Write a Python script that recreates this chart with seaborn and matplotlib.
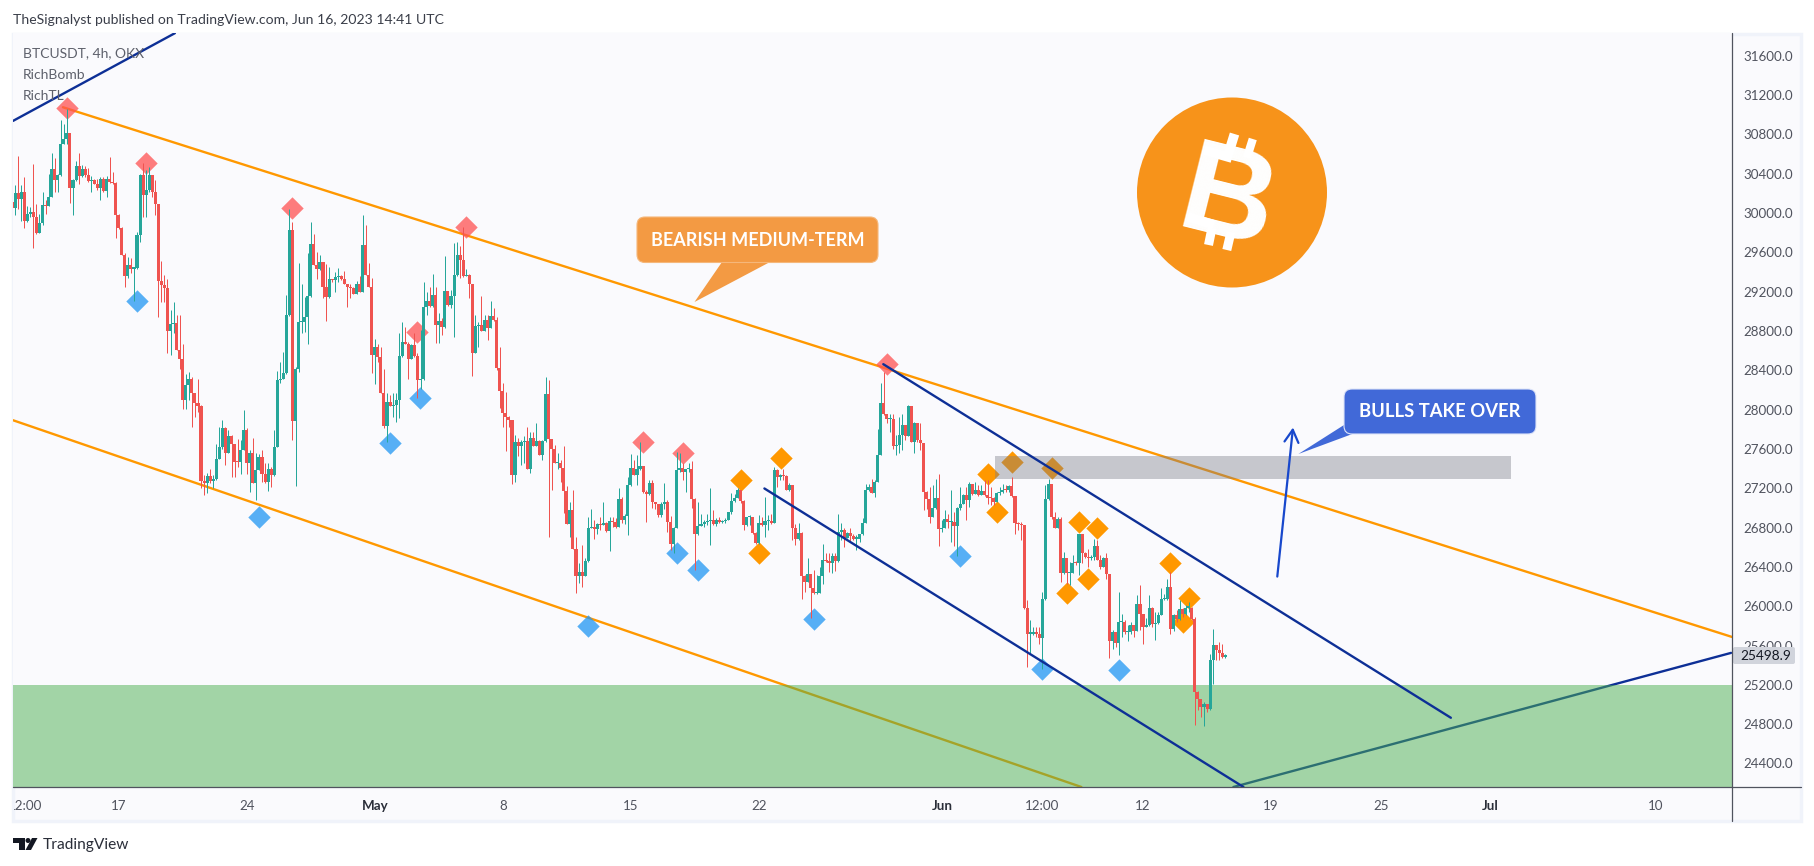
import numpy as np
import pandas as pd
import matplotlib
matplotlib.use("Agg")
import matplotlib.pyplot as plt
from matplotlib.patches import Rectangle, FancyBboxPatch, Polygon, Circle
from matplotlib.transforms import Bbox
import seaborn as sns

# 4h candles (open = previous close)
first_open = 30110
closes = [
    30051,30197,30136,30207,29919,29993,30010,29960,29797,29892,
    30075,30068,30163,30441,30332,30383,30705,30746,30807,30248,
    30332,30475,30373,30441,30383,30326,30339,30298,30248,30349,
    30224,30349,30315,30305,29976,29848,29570,29356,29468,29434,
    29441,29773,30383,30180,30231,30383,30214,30088,29305,29265,
    29231,28800,28868,28875,28610,28509,28095,28248,28315,28163,
    28068,28034,27275,27254,27322,27275,27298,27492,27614,27817,
    27559,27729,27647,27468,27465,27593,27790,27451,27559,27254,
    27383,27512,27349,27265,27390,27336,27614,28298,28315,28373,
    28960,29824,27885,28417,28892,28892,28936,29153,29681,29468,
    29424,29502,29241,29146,29332,29315,29349,29356,29332,29281,
    29241,29231,29173,29275,29197,29671,29366,29241,28553,28637,
    28529,28170,27831,28078,28037,28044,28095,28542,28688,28665,
    28512,28654,28542,28298,28315,29044,29102,29051,29163,28858,
    28902,28841,29207,29061,29153,29366,29570,29519,29356,29366,
    29275,28576,28848,28858,28800,28909,28834,28949,28909,28424,
    28190,27966,27925,27892,27332,27671,27627,27671,27681,27397,
    27715,27627,27681,27542,27681,28156,27695,27603,27451,27458,
    27410,27173,26834,26976,26586,26305,26349,26305,26461,
    26790,26807,26780,26834,26824,26841,26766,26868,26858,26807,
    27088,26875,26915,27231,27410,27332,27390,27424,27163,27136,
    27248,27061,27044,26925,27037,27061,26851,26637,26800,27383,
    27410,27366,27390,27400,27085,26732,26817,26834,26858,26868,
    26881,26834,26881,26858,26868,26881,26953,27068,27105,27180,
    27068,26824,26902,26902,26746,26644,26847,26824,26868,26868,
    26847,27383,27309,27332,27322,27186,27231,26790,26688,26749,
    26308,26248,26332,26180,26129,26129,26305,26468,26461,26441,
    26508,26461,26756,26773,26698,26746,26712,26688,26688,26732,26847,
    27186,27214,27152,27264,27536,28071,27953,27902,27908,27627,
    27637,27739,27841,27732,28034,27671,27864,27688,27661,27163,
    27085,26908,27003,27105,26780,26800,26891,26858,26858,26813,
    27003,27044,27129,27078,27247,27139,27180,27129,27173,27129,
    27105,27095,27061,27152,27163,27186,27180,27220,27119,26847,
    26834,26824,25986,25722,25722,25739,25722,25681,26068,27085,
    27241,26908,26800,26891,26339,26485,26339,26339,26441,26434,
    26732,26536,26502,26485,26502,26610,26474,26400,26485,26325,
    25647,25739,25627,25841,25841,25739,25739,25807,25749,26027,
    25925,25790,25807,25986,25817,25824,25908,26068,26078,26190,
    25763,25908,25874,25976,25925,25986,25986,25874,25129,25051,
    24976,25010,24952,25457,25603,25559,25525,25478,25498.9,
]
highs = [
    30146,30282,30576,30282,30360,30068,30061,30492,30095,29993,
    30214,30129,30393,30610,30553,30393,30943,30902,31054,30807,
    30349,30526,30604,30485,30475,30451,30373,30346,30349,30366,
    30360,30373,30563,30417,30315,29993,29858,29587,29553,29536,
    29451,29807,30400,30502,30434,30468,30383,30332,30088,29512,
    29366,29332,29010,29095,28960,28960,28671,28366,28383,28332,
    28163,28315,28044,27332,27356,27400,27332,27654,27824,27892,
    27824,27790,27739,27654,27705,27688,28000,27807,27586,27715,
    27553,27546,27593,27451,27451,27417,27790,28393,28485,28587,
    29163,30044,29909,28434,29485,29281,29146,29587,29902,29783,
    29604,29576,29485,29475,29451,29332,29400,29444,29366,29410,
    29281,29275,29241,29305,29356,29976,29875,29485,29342,28712,
    28671,28631,28407,28163,28146,28170,28163,28773,28892,28841,
    28688,28671,28773,28576,28807,29292,29197,29248,29383,29241,
    28983,28926,29559,29207,29214,29695,29705,29661,29851,29434,
    29383,29275,28960,28892,29153,28960,28960,29102,29037,28943,
    28631,28265,28180,27932,27892,27739,27715,27688,27729,27824,
    27773,27773,27858,27688,27688,28326,28298,27705,27637,27553,
    27485,27631,27220,27061,27186,26705,26434,26620,26485,
    26902,26993,26875,26841,26908,27061,26858,26908,26908,26892,
    27197,27112,26942,27309,27546,27485,27536,27671,27424,27180,
    27281,27288,27061,27044,27061,27248,27078,26915,26807,27570,
    27553,27451,27400,27451,27475,27095,27061,26942,26875,26942,
    27197,26976,26892,26908,26875,26892,26959,27146,27139,27197,
    27180,27078,26908,26925,26908,26756,26925,26908,27112,26925,
    26942,27417,27400,27349,27390,27332,27254,27231,26834,26841,
    26756,26315,26485,26332,26366,26315,26400,26637,26536,26536,
    26536,26542,26942,26847,26790,26756,26790,26739,26722,26739,26892,
    27247,27247,27298,27281,27797,28271,28383,27959,27959,27959,
    27739,27925,27959,27841,28044,28034,27875,27864,27858,27661,
    27173,27214,27230,27298,27349,26875,26976,26942,27180,26959,
    27010,27214,27139,27214,27264,27247,27264,27230,27230,27281,
    27281,27214,27112,27163,27214,27247,27230,27230,27315,27119,
    26858,26858,26780,26061,25857,25790,25790,25790,26146,27230,
    27298,27241,26959,26908,26908,26552,26491,26451,26519,26461,
    26739,26739,26552,26586,26519,26688,26671,26519,26502,26536,
    26332,25756,25739,26146,25925,25857,25807,25841,25807,26112,
    26214,25925,25875,26112,25993,25942,25942,26180,26122,26281,
    26349,25925,25959,26061,25986,26010,26044,25993,25885,25139,
    25061,25027,25010,25518,25763,25603,25637,25620,25518,
]
lows = [
    29976,29976,30044,29919,29841,29909,29960,29644,29783,29790,
    29875,29993,30068,30163,30214,30214,30373,30705,30705,30102,
    29976,30322,30298,30366,30360,30315,30214,30292,30231,30129,
    30217,30163,30305,30298,29749,29831,29570,29248,29339,29390,
    29102,29434,29705,29960,29960,30214,30163,29976,28942,29095,
    29095,28570,28553,28773,28603,28417,28010,28010,28095,27824,
    27925,27976,27197,27129,27146,27248,27197,27288,27492,27603,
    27434,27553,27315,27309,27417,27349,27586,27349,27163,27248,
    27078,27383,27265,27254,27173,27214,27322,27614,28265,28315,
    28366,28949,27688,27220,28383,28773,28790,28671,29146,29468,
    29332,29417,29129,28902,29139,29298,29197,29298,29315,29275,
    29044,29139,29173,29173,29197,29197,29366,29241,28373,28258,
    28485,28170,27817,27671,28037,27925,27875,27909,28536,28665,
    28309,28519,28536,28112,28204,28298,28960,29044,29044,28678,
    28678,28756,28834,29051,29037,28739,29356,29342,29349,29356,
    29136,28339,28570,28637,28800,28800,28705,28834,28902,28400,
    28020,27824,27580,27824,27241,27264,27525,27434,27451,27390,
    27356,27627,27627,27542,27485,27671,26705,27180,27451,27400,
    27264,26949,26834,26705,26586,26129,26231,26197,26305,
    26451,26790,26688,26739,26773,26824,26756,26563,26807,26790,
    26807,26841,26834,26722,27220,27332,27231,27383,27146,26858,
    27129,27003,26993,26908,26908,26993,26756,26576,26542,26790,
    27366,27281,27163,27366,27003,26366,26722,26814,26807,26824,
    26620,26824,26814,26847,26841,26847,26875,26942,27061,27095,
    27051,26773,26814,26824,26739,26637,26637,26814,26705,26773,
    26834,26847,27214,27281,27281,27180,27173,26678,26620,26671,
    26078,26146,26248,25875,26122,26122,26214,26230,26451,26349,
    26339,26359,26451,26671,26603,26698,26654,26671,26570,26654,26722,
    26841,27173,27146,27112,27264,27536,27942,27864,27773,27603,
    27536,27553,27593,27688,27732,27671,27559,27671,27586,26976,
    26993,26841,26902,26993,26613,26756,26790,26790,26654,26610,
    26508,26976,27044,26875,27010,27129,27139,27119,27129,27119,
    27044,27027,27027,27061,27129,27146,27163,27163,27112,26739,
    26773,26671,25976,25383,25519,25705,25688,25620,25366,26061,
    27078,26891,26790,26790,26247,26325,26230,26213,26339,26417,
    26315,26434,26485,26400,26468,26474,26468,26383,26400,26281,
    25468,25569,25580,25501,25688,25722,25647,25722,25688,25749,
    25756,25613,25790,25796,25790,25654,25817,25908,26061,26061,
    25722,25749,25840,25857,25891,25908,25942,25857,24790,24942,
    24874,24780,24925,24949,25213,25451,25451,25468,25468,
]

# pivot markers: days since 1 May, price
red_days = [-16.85, -12.51, -4.5, 5.01, 2.3, 14.67, 16.83, 28.02]
red_prices = [31064, 30505, 30050, 29857, 28786, 27671, 27556, 28461]
blue_days = [-13.0, -6.34, 0.82, 2.49, 11.67, 16.5, 17.69, 24.02, 32.02, 36.5, 40.68]
blue_prices = [29105, 26908, 27664, 28112, 25796, 26542, 26366, 25870, 26508, 25356, 25349]
orange_days = [20.0, 21.02, 22.19, 33.5, 34.02, 34.84, 37.03, 37.85, 38.52, 39.01, 39.5, 43.5, 44.52, 44.17]
orange_prices = [27288, 26542, 27508, 27342, 26956, 27467, 27410, 26129, 26857, 26281, 26790, 26444, 26088, 25840]

# trend lines
upper_channel_days, upper_channel_prices = [-17.05, 74.2], [31074, 25687]
lower_channel_days, lower_channel_prices = [-19.78, 38.63], [27891, 24161]
old_line_days, old_line_prices = [-19.78, -10.93], [30935, 31827]
wedge_top_days, wedge_top_prices = [27.8, 58.83], [28461, 24865]
wedge_low_days, wedge_low_prices = [21.3, 47.49], [27197, 24161]
rising_days, rising_prices = [46.94, 74.15], [24161, 25525]

price_ticks = list(range(24400, 31601, 400))
date_ticks = [-19.1, -14, -7, 0, 7, 14, 21, 31, 36.5, 42, 49, 55, 61, 70]
date_labels = ["12:00", "17", "24", "May", "8", "15", "22", "Jun", "12:00", "12", "19", "25", "Jul", "10"]
month_labels = ["May", "Jun", "Jul"]
last_price = "25498.9"

sns.set_theme(style="white", rc={"font.family": "Lato"})

W, H = 1815, 866
fig = plt.figure(figsize=(W / 100, H / 100), dpi=100, facecolor="white")

def px_axes(z):
    a = fig.add_axes([0, 0, 1, 1], zorder=z)
    a.set_xlim(0, W)
    a.set_ylim(H, 0)
    a.axis("off")
    a.patch.set_alpha(0)
    return a

base = px_axes(0)
base.add_patch(Rectangle((13, 34), 1788, 787, fc="#fafafd", ec="#f0f3fa", lw=2.5))

left, right, top, bottom = 13, 1732, 33, 787
ax = fig.add_axes([left / W, 1 - bottom / H, (right - left) / W, (bottom - top) / H], zorder=1)
ax.set_facecolor("#fafafd")
ax.set_xlim(-19.78, 74.2)
ax.set_ylim(24161, 31829)

# candles
times = pd.date_range(end="2023-06-16 12:00", periods=len(closes), freq="4h")
days = (times - pd.Timestamp("2023-05-01")) / pd.Timedelta(days=1)
df = pd.DataFrame({"day": days, "close": closes, "high": highs, "low": lows})
df["open"] = df["close"].shift(1).fillna(first_open)
df["high"] = df[["high", "open", "close"]].max(axis=1)
df["low"] = df[["low", "open", "close"]].min(axis=1)
df["color"] = np.where(df["close"] >= df["open"], "#26a69a", "#ef5350")

# lines and zones under the candles
for d, p in [(upper_channel_days, upper_channel_prices), (lower_channel_days, lower_channel_prices)]:
    sns.lineplot(x=d, y=p, ax=ax, color="#ff9800", lw=1.7, zorder=1.5, estimator=None)
sns.lineplot(x=rising_days, y=rising_prices, ax=ax, color="#0d2f96", lw=1.7, zorder=1.5, estimator=None)
sns.scatterplot(x=red_days, y=red_prices, ax=ax, marker="D", s=130, color="#ff5252", alpha=0.75, linewidth=0, zorder=1.6)
sns.scatterplot(x=blue_days, y=blue_prices, ax=ax, marker="D", s=130, color="#2196f3", alpha=0.75, linewidth=0, zorder=1.6)
sns.scatterplot(x=orange_days, y=orange_prices, ax=ax, marker="D", s=130, color="#ff9800", linewidth=0, zorder=1.6)
ax.axhspan(24161, 25200, color="#4caf50", alpha=0.5, lw=0, zorder=2)
ax.add_patch(Rectangle((33.88, 27291), 62.12 - 33.88, 27528 - 27291, fc="#787b86", alpha=0.4, lw=0, zorder=2))

ax.vlines(df["day"], df["low"], df["high"], colors=df["color"], lw=0.72, zorder=3)
ax.bar(df["day"], (df["close"] - df["open"]).abs().clip(lower=12), bottom=df[["open", "close"]].min(axis=1),
       width=0.168, color=df["color"], lw=0, zorder=3)

for d, p in [(old_line_days, old_line_prices), (wedge_top_days, wedge_top_prices), (wedge_low_days, wedge_low_prices)]:
    sns.lineplot(x=d, y=p, ax=ax, color="#0d2f96", lw=1.7, zorder=4, estimator=None)

ax.annotate("", xy=(50.2, 27817), xytext=(49.34, 26301), zorder=4,
            arrowprops=dict(arrowstyle="->,head_length=0.75,head_width=0.42", color="#1848cc", lw=1.6, shrinkA=0, shrinkB=0))

# axes
ax.set_xlabel("")
ax.set_ylabel("")
ax.yaxis.tick_right()
ax.set_yticks(price_ticks)
ax.set_yticklabels([f"{p:.1f}" for p in price_ticks])
ax.set_xticks(date_ticks)
ax.set_xticklabels(date_labels)
ax.tick_params(axis="y", length=0, pad=8, labelsize=9.6, labelcolor="#50535e")
ax.tick_params(axis="x", length=0, pad=9, labelsize=9.6, labelcolor="#50535e")
for lbl in ax.get_xticklabels():
    if lbl.get_text() in month_labels:
        lbl.set_fontweight("bold")
        lbl.set_color("#2a2e39")
    lbl.set_clip_on(True)
    lbl.set_clip_box(Bbox([[14, 0], [W, H]]))
for s in ax.spines.values():
    s.set_visible(False)

# everything drawn in picture pixels from here on
over = px_axes(2)
over.plot([1732, 1732], [33, 821], color="#50535e", lw=0.9)
over.plot([13, 1801], [787, 787], color="#50535e", lw=0.9)

# last price tag
over.add_patch(FancyBboxPatch((1733, 647), 62, 17, boxstyle="round,pad=0,rounding_size=2", fc="#d1d4dc", ec="none"))
over.text(1766, 656, last_price, ha="center", va="center", fontsize=9.8, color="#131722")

over.text(13, 20, "TheSignalyst published on TradingView.com, Jun 16, 2023 14:41 UTC",
          fontsize=10.05, color="#3a3e49", va="center")
for y, t in [(53.5, "BTCUSDT, 4h, OKX"), (75, "RichBomb"), (96, "RichTL")]:
    over.text(23, y, t, fontsize=10.0, color="#5d606b", va="center")

# callouts
over.add_patch(Polygon([(694.5, 302), (722, 262), (770, 262)], fc="#f39a43", ec="none"))
over.add_patch(FancyBboxPatch((637, 217), 241, 45.5, boxstyle="round,pad=0,rounding_size=8", fc="#f39a43", ec="#f5b77a", lw=0.8))
over.text(757.5, 240, "BEARISH MEDIUM-TERM", color="white", fontsize=13.0, fontweight="bold", ha="center", va="center")
over.add_patch(Polygon([(1298.4, 454), (1344, 425), (1355, 433)], fc="#4169d8", ec="none"))
over.add_patch(FancyBboxPatch((1344, 389), 192, 45, boxstyle="round,pad=0,rounding_size=8", fc="#4169d8", ec="#dfe5f8", lw=0.8))
over.text(1440, 411.5, "BULLS TAKE OVER", color="white", fontsize=13.2, fontweight="bold", ha="center", va="center")

# bitcoin logo
over.add_patch(Circle((1232, 192.5), 95, fc="#f7931a", ec="none"))
over.text(1230, 192, "B", color="white", fontsize=93, fontweight="bold", family="Liberation Sans",
          rotation=-14, rotation_mode="anchor", ha="center", va="center_baseline")
for x0, y0, x1, y1, w in [(1234.5, 134, 1227.7, 156, 7), (1252.8, 139, 1246.8, 158, 6),
                          (1208.5, 245, 1212, 228, 6.5), (1226.8, 250, 1231, 232, 6.5),
                          (1204, 150, 1232, 158, 7), (1187.5, 216.7, 1214, 225, 7)]:
    over.plot([x0, x1], [y0, y1], color="white", lw=w, solid_capstyle="butt")

# footer
over.add_patch(Polygon([(13, 838), (25, 838), (25, 850), (19, 850), (19, 843), (13, 843)], fc="#131722", ec="none"))
over.add_patch(Circle((28, 840.5), 2.5, fc="#131722", ec="none"))
over.add_patch(Polygon([(25.5, 850), (31, 850), (37.5, 838), (32, 838)], fc="#131722", ec="none"))
over.text(43, 845, "TradingView", fontsize=11.2, color="#2a2e39", va="center")

fig.savefig("out.png", dpi=100, facecolor="white")
